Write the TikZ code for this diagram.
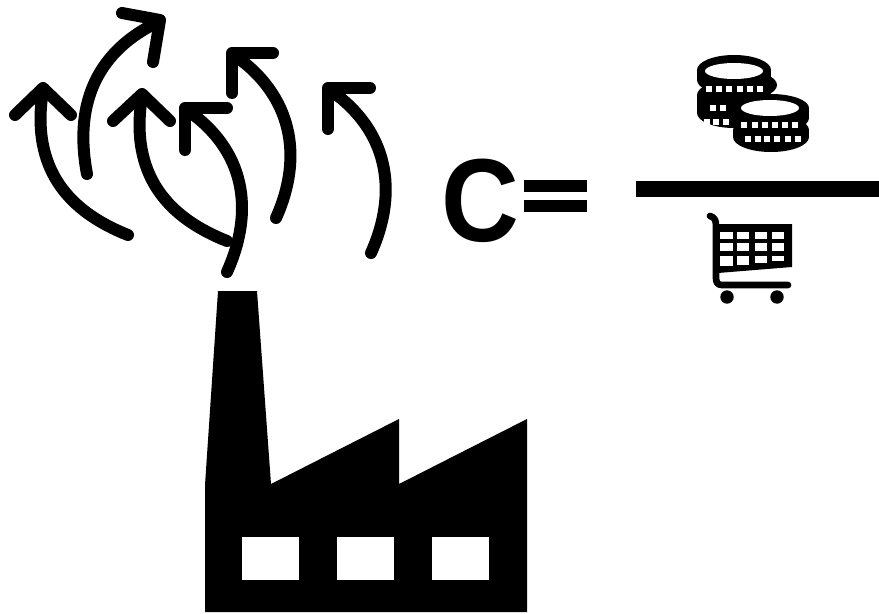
\documentclass[tikz,border=0pt]{standalone}
\usepackage{fontspec}
\setsansfont{Liberation Sans}
\usepackage{tikz}
\usetikzlibrary{calc}

\begin{document}
\begin{tikzpicture}[
    x=0.75pt, y=-0.75pt,
    puff/.style={draw=black, line width=9pt, line cap=round, line join=round},
    solid/.style={fill=black, draw=none},
    hole/.style={fill=white, draw=none},
    cartline/.style={draw=black, line width=5pt, line cap=round, line join=round},
    coinslit/.style={fill=white, draw=none, minimum width=4.2pt, minimum height=3.8pt, inner sep=0pt},
    lbl/.style={font=\sffamily\bfseries\fontsize{86}{90}\selectfont, inner sep=0pt, anchor=base west}
]
\useasboundingbox (0,0) rectangle (879,614);

% --- Factory ---
\fill[solid] (205,612) -- (205,485) -- (218,291) -- (257,291) -- (271,484) -- (399,419)
    -- (399,484) -- (527,419) -- (527,612) -- cycle;
\fill[hole] (242,537) rectangle (299,580);
\fill[hole] (337,537) rectangle (394,580);
\fill[hole] (432,537) rectangle (489,580);

% --- Smoke arrows ---
\draw[puff] (128,235) .. controls (70,212) and (30,170) .. (43,90);
\draw[puff] (15,115) -- (43,88) -- (71,115);

\draw[puff] (87,174) .. controls (73,100) and (100,50) .. (158,22);
\draw[puff] (122,13) -- (160,20) -- (153,62);

\draw[puff] (227,241) .. controls (169,218) and (129,176) .. (142,96);
\draw[puff] (113,121) -- (142,94) -- (170,121);

\draw[puff] (227,272) .. controls (255,210) and (245,150) .. (187,110);
\draw[puff] (185,150) -- (185,108) -- (227,108);

\draw[puff] (276,218) .. controls (304,156) and (292,95) .. (234,55);
\draw[puff] (232,93) -- (232,53) -- (273,53);

\draw[puff] (371,253) .. controls (399,191) and (388,130) .. (330,90);
\draw[puff] (328,129) -- (328,88) -- (370,88);

% --- Equation ---
\node[lbl, xscale=0.94, yscale=1.03] (cost) at (441,241) {C};
\fill[solid] (524,180) rectangle (587,192);
\fill[solid] (524,200) rectangle (587,212);
\fill[solid] (636,181) rectangle (879,197);

% --- Coins (back stack, then front stack) ---
\fill[solid] (697,95) rectangle (771,113);
\fill[solid] (734,113) ellipse (37 and 15);
\fill[solid] (734,95) ellipse (37 and 15);
\fill[solid] (740,85) ellipse (37 and 15);
\fill[solid] (697,70) rectangle (771,80);
\fill[solid] (734,80) ellipse (37 and 15);
\fill[solid] (734,70) ellipse (37 and 15);
\fill[hole] (734,71) ellipse (29 and 8);
\foreach \xpos in {709,719,729,740,750,760}
    \node[coinslit] at (\xpos,89) {};
\foreach \xpos in {713,723}
    \node[coinslit] at (\xpos,108) {};
\foreach \xpos in {707,716,726}
    \node[coinslit] at (\xpos,122) {};

\fill[solid] (733,108) rectangle (809,118);
\fill[solid] (771,108) ellipse (38 and 14);
\fill[solid] (771,118) ellipse (38 and 15);
\fill[solid] (733,130) rectangle (809,137);
\fill[solid] (771,130) ellipse (38 and 15);
\fill[solid] (771,137) ellipse (38 and 15);
\fill[hole] (770,108) ellipse (29 and 8);
\foreach \xpos in {744,755,765,775,785,795}
    \node[coinslit] at (\xpos,125) {};
\foreach \xpos in {748,758,767,777,788,798}
    \node[coinslit] at (\xpos,139) {};

% --- Shopping cart ---
\fill[solid] (715,224) -- (792,224) -- (792,267) -- (718,273) -- cycle;
\foreach \xa/\xb in {720/733,737/749,755/767,772/784} {
    \fill[hole] (\xa,232) rectangle (\xb,239);
    \fill[hole] (\xa,243) rectangle (\xb,251);
}
\fill[hole] (720,256) rectangle (733,266);
\fill[hole] (737,256) rectangle (749,265);
\fill[hole] (755,256) rectangle (767,263);
\fill[hole] (772,256) rectangle (784,261);
\draw[cartline] (710,216) .. controls (714,217) and (716,220) .. (716,225)
    -- (716,278) .. controls (716,283) and (718,285) .. (722,285) -- (788,285);
\fill[solid] (727,297) circle (6.7);
\fill[solid] (777,297) circle (6.7);

\end{tikzpicture}
\end{document}
